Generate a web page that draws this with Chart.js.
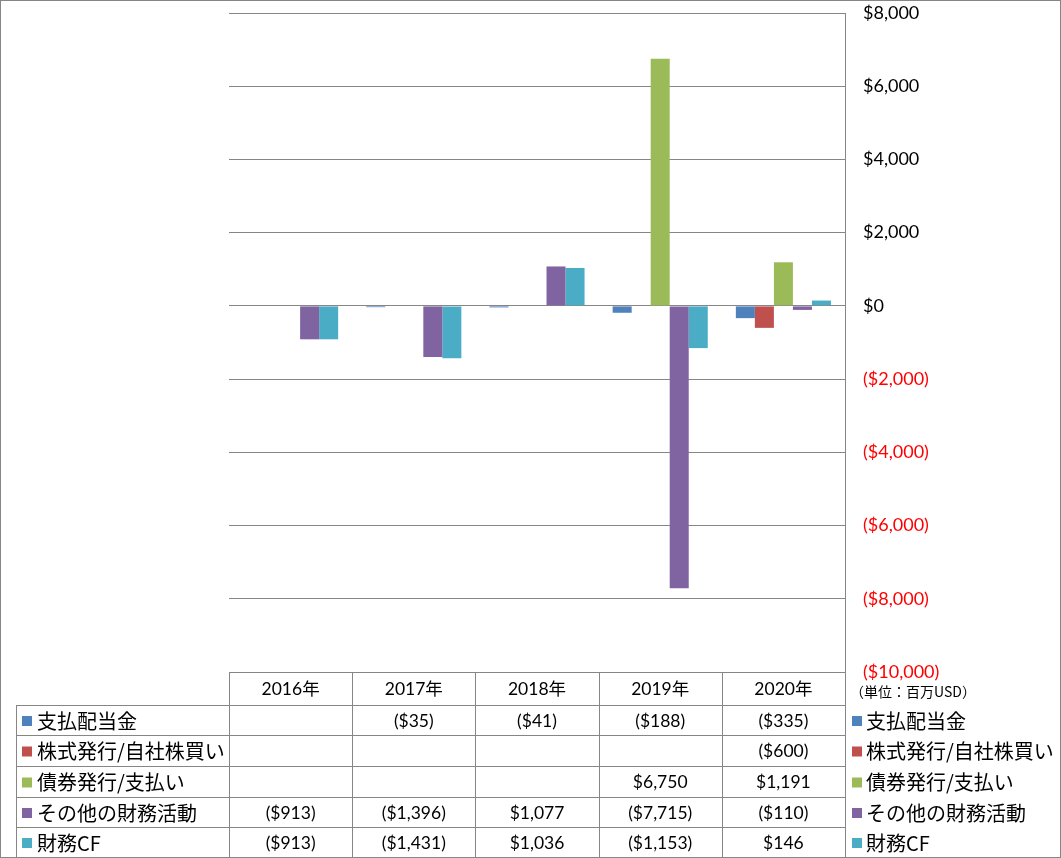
<!DOCTYPE html>
<html>
<head>
<meta charset="utf-8">
<script src="https://cdn.jsdelivr.net/npm/chart.js@4/dist/chart.umd.min.js"></script>
<style>
  html, body { margin: 0; padding: 0; background: #fff; }
  canvas { display: block; }
</style>
</head>
<body>
<canvas id="cfChart" width="1061" height="858"></canvas>
<script>
// データ（単位：百万USD）
const years = ['2016年', '2017年', '2018年', '2019年', '2020年'];
const seriesNames = ['支払配当金', '株式発行/自社株買い', '債券発行/支払い', 'その他の財務活動', '財務CF'];
const dividends = [null, -35, -41, -188, -335];
const stockIssue = [null, null, null, null, -600];
const bondIssue = [null, null, null, 6750, 1191];
const otherFinancing = [-913, -1396, 1077, -7715, -110];
const financingCF = [-913, -1431, 1036, -1153, 146];
const colors = ['#4F81BD', '#C0504D', '#9BBB59', '#8064A2', '#4BACC6'];
const unitNote = '（単位：百万USD）';

const allSeries = [dividends, stockIssue, bondIssue, otherFinancing, financingCF];

const numFont = 'Lato, "Noto Sans CJK JP", sans-serif';
const jpFont = '"Noto Sans CJK JP", sans-serif';
const gridColor = '#868686';

// $1,234 / ($1,234) 形式
function fmtUSD(v) {
  if (v === null || v === undefined) return '';
  const s = '$' + Math.abs(v).toLocaleString('en-US');
  return v < 0 ? '(' + s + ')' : s;
}

// 下のデータテーブルと凡例を描く
const tablePlugin = {
  id: 'dataTable',
  afterDraw(chart) {
    const ctx = chart.ctx;
    const area = chart.chartArea;
    const x = chart.scales.x;
    const colW = (area.right - area.left) / years.length;
    const tableLeft = 16;
    const headerTop = area.bottom;
    const rowTops = [705, 735, 766, 797, 827];
    const bottom = 857;

    ctx.save();
    ctx.strokeStyle = gridColor;
    ctx.lineWidth = 1;

    // 縦線
    ctx.beginPath();
    for (let i = 0; i <= years.length; i++) {
      const xx = Math.round(area.left + colW * i) + 0.5;
      ctx.moveTo(xx, headerTop);
      ctx.lineTo(xx, bottom);
    }
    ctx.moveTo(tableLeft + 0.5, rowTops[0]);
    ctx.lineTo(tableLeft + 0.5, bottom);
    // 横線
    rowTops.forEach(y => {
      ctx.moveTo(tableLeft, y + 0.5);
      ctx.lineTo(area.right + 1, y + 0.5);
    });
    ctx.stroke();

    // 外枠
    ctx.strokeRect(0.5, 0.5, 1060, 857);

    // ヘッダー
    ctx.fillStyle = '#000';
    ctx.textBaseline = 'middle';
    ctx.textAlign = 'center';
    ctx.font = '17.5px ' + numFont;
    years.forEach((y, i) => {
      ctx.fillText(y, x.getPixelForValue(i), (headerTop + rowTops[0]) / 2 + 1);
    });

    // 各行
    allSeries.forEach((data, r) => {
      const top = rowTops[r];
      const bot = r < rowTops.length - 1 ? rowTops[r + 1] : bottom;
      const cy = (top + bot) / 2 + 1;

      ctx.textAlign = 'center';
      ctx.font = '17.5px ' + numFont;
      ctx.fillStyle = '#000';
      data.forEach((v, i) => {
        if (v !== null) ctx.fillText(fmtUSD(v), x.getPixelForValue(i), cy);
      });

      // 凡例（左右）
      ctx.fillStyle = colors[r];
      ctx.fillRect(22, cy - 5, 10, 10);
      ctx.fillRect(852, cy - 5, 10, 10);
      ctx.fillStyle = '#000';
      ctx.textAlign = 'left';
      ctx.font = '20px ' + jpFont;
      ctx.fillText(seriesNames[r], 37, cy);
      ctx.fillText(seriesNames[r], 866, cy);
    });

    // 単位
    ctx.font = '14px ' + jpFont;
    ctx.textAlign = 'left';
    ctx.fillText(unitNote, 850, 692);
    ctx.restore();
  }
};

new Chart(document.getElementById('cfChart'), {
  type: 'bar',
  data: {
    labels: years,
    datasets: seriesNames.map((name, i) => ({
      label: name,
      data: allSeries[i],
      backgroundColor: colors[i],
      borderWidth: 0,
      categoryPercentage: 0.772,
      barPercentage: 1
    }))
  },
  options: {
    responsive: false,
    animation: false,
    layout: { padding: { left: 229, top: 13, bottom: 186, right: 0 } },
    plugins: {
      legend: { display: false },
      tooltip: { enabled: false }
    },
    scales: {
      x: { display: false },
      y: {
        position: 'right',
        min: -10000,
        max: 8000,
        afterFit(scale) {
          scale.width = 216;
          scale.paddingTop = 0;
          scale.paddingBottom = 0;
        },
        grid: { color: gridColor, drawTicks: false },
        border: { display: true, color: gridColor },
        ticks: {
          stepSize: 2000,
          padding: 18,
          crossAlign: 'near',
          font: { family: numFont, size: 18 },
          color: c => (c.tick && c.tick.value < 0 ? '#FF0000' : '#000'),
          callback: v => fmtUSD(v)
        }
      }
    }
  },
  plugins: [tablePlugin]
});
</script>
</body>
</html>
